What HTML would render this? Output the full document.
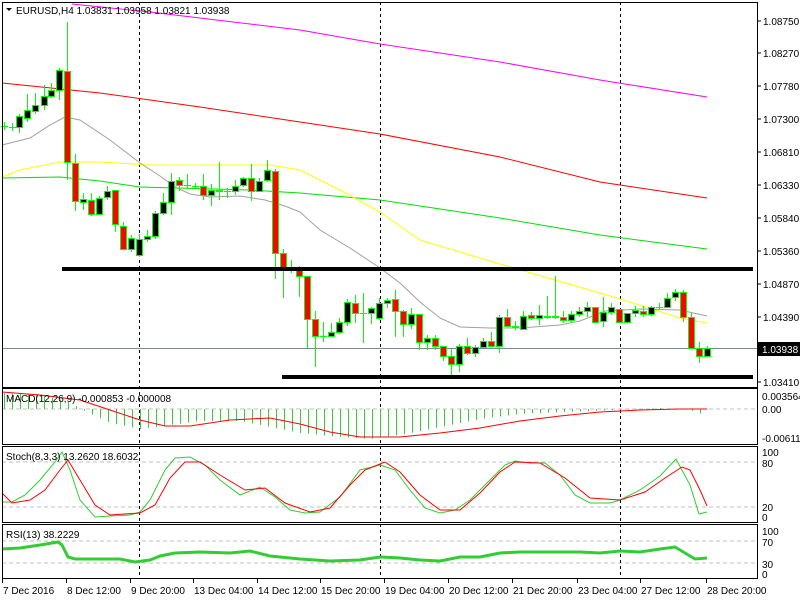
<!DOCTYPE html>
<html><head><meta charset="utf-8"><style>
html,body{margin:0;padding:0;background:#fff;}
svg{display:block;font-family:"Liberation Sans",sans-serif;font-size:10px;}
</style></head><body>
<svg id="s" width="800" height="600" xmlns="http://www.w3.org/2000/svg">
<rect width="800" height="600" fill="#fff"/>
<g id="g"></g>
</svg>
<script>
const g=document.getElementById('g');let h='';
function pl(pts,c,w){h+=`<polyline fill="none" stroke="${c}" stroke-width="${w}" points="${pts.map(p=>p.join(',')).join(' ')}"/>`;}
function ln(x1,y1,x2,y2,c,w,d){h+=`<line x1="${x1}" y1="${y1}" x2="${x2}" y2="${y2}" stroke="${c}" stroke-width="${w}"${d?` stroke-dasharray="${d}"`:''}/>`;}
function tx(x,y,t,c,a){h+=`<text x="${x}" y="${y}" fill="${c||'#000'}"${a?` text-anchor="${a}"`:''}>${t}</text>`;}
[[409],[462],[507],[541],[563]].forEach(v=>ln(2,v[0],757,v[0],'#c0c0c0',1,'4,3'));
ln(2,348.5,757,348.5,'#778899',1);
[139.5,380.5,620.5].forEach(x=>ln(x,2,x,578,'#000',1,'3,3'));
pl([[72,4],[150,12],[300,30],[380,44],[500,62],[600,80],[707,97]],'#ff00ff',1);
pl([[2,83],[100,93],[200,107],[300,122],[380,134],[500,157],[600,182],[707,198]],'#ff0000',1);
pl([[2,178],[60,177],[100,181],[140,187],[250,190],[300,193],[380,200],[500,218],[600,235],[707,249]],'#00e000',1);
pl([[2,177],[20,170],[60,162],[100,162],[150,165],[270,165],[300,170],[340,190],[380,212],[420,240],[470,255],[500,264],[555,280],[600,293],[640,305],[680,318],[707,323]],'#ffff00',1);
pl([[2,145],[30,138],[50,125],[65,117],[80,120],[110,140],[140,163],[160,176],[175,187],[190,194],[210,197],[240,196],[265,200],[285,206],[300,212],[320,230],[350,248],[380,268],[400,283],[420,302],[440,318],[460,327],[490,328],[520,328],[560,325],[580,321],[605,311],[640,309],[680,310],[707,316]],'#a0a0a0',1);
const C=[[4,'c',126,126,122,130],[12,'c',127,127,123,131],[19,'b',116,127,114,133],[27,'b',110,118,94,122],[35,'b',105,111,93,114],[44,'b',96,105,85,110],[51,'b',90,96,83,98],[59,'b',70,90,68,100],[67,'r',71,162,22,180],
[75,'r',163,201,154,211],[83,'b',199,202,193,210],[91,'r',200,214,193,216],[99,'b',198,214,196,215],[107,'b',191,197,186,200],[115,'r',190,224,190,232],[123,'r',226,249,222,250],[131,'b',238,249,235,252],[139,'b',239,255,234,257],
[147,'b',236,239,230,242],[155,'b',213,236,211,239],[163,'b',202,213,193,215],[171,'b',181,202,173,215],[179,'r',180,185,177,191],[187,'c',185,185,174,189],[195,'c',186,186,183,188],[203,'r',186,195,174,200],[211,'b',190,195,184,206],[219,'r',190,191,162,200],[227,'c',191,191,188,198],[235,'b',186,191,180,195],[243,'b',178,185,177,187],[251,'r',178,191,164,201],[259,'b',181,191,178,192],[267,'b',170,180,160,182],
[275,'r',171,253,169,279],[283,'r',253,267,249,298],[291,'r',267,268,260,273],[299,'r',269,276,266,297],[307,'r',276,319,276,348],[315,'r',319,336,311,367],[323,'c',336,336,322,342],[331,'b',332,336,323,337],[339,'b',322,332,318,334],[347,'b',302,322,299,326],[355,'r',303,313,295,323],[363,'c',313,313,293,343],[371,'b',308,313,307,324],[379,'b',303,318,298,320],[387,'b',300,303,298,308],[395,'r',299,311,290,337],
[403,'r',311,324,310,337],[411,'b',314,324,308,329],[419,'r',314,342,314,350],[427,'b',338,342,335,350],[435,'r',338,346,335,350],[443,'r',346,356,346,361],[451,'r',356,364,349,377],[459,'b',346,364,344,372],[467,'r',346,353,338,355],[475,'b',347,353,345,357],[483,'b',341,347,338,348],[491,'r',341,346,332,347],[499,'b',317,346,315,353],[507,'r',317,326,309,327],[515,'r',326,327,321,330],[523,'b',316,329,311,330],[531,'r',315,318,312,320],[539,'b',315,318,305,325],[547,'r',316,317,296,319],[555,'r',316,317,276,319],[563,'r',317,320,311,323],[571,'b',314,320,311,323],[579,'b',311,314,307,317],[587,'b',307,311,302,317],[595,'r',307,322,307,323],[603,'b',312,321,297,327],[611,'b',307,312,303,315],[619,'r',309,322,309,323],[627,'b',313,322,313,323],[635,'b',310,313,306,317],[643,'r',311,314,306,317],[651,'b',307,314,306,316],[659,'c',307,307,303,310],[667,'b',298,307,293,308],[675,'b',292,297,289,301],[683,'r',292,317,290,322],[691,'r',317,348,313,349],[699,'r',348,356,342,363],[707,'b',348,356,346,357]];
C.forEach(([x,t,bt,bb,wt,wb])=>{
 ln(x+.5,wt,x+.5,wb,'#00ff00',1);
 if(t=='c'){ln(x-3,bt+.5,x+4,bt+.5,'#00ff00',1);}
 else{h+=`<rect x="${x-2.5}" y="${bt+.5}" width="6" height="${Math.max(bb-bt,1)}" fill="${t=='b'?'#000':'#ff0000'}" stroke="#00ff00" stroke-width="1"/>`;}
});
ln(62,269,753,269,'#000',4);ln(282,377,753,377,'#000',4);
function mv(x){const pts=[[2,-16],[40,-14],[66,-8],[85,2],[110,14],[140,20],[170,16],[200,12],[240,12],[270,18],[300,24],[340,28],[370,30],[400,26],[440,18],[480,10],[520,5],[560,3],[620,1],[660,-1],[690,1],[707,7]];
 for(let i=0;i<pts.length-1;i++){if(x>=pts[i][0]&&x<=pts[i+1][0]){const f=(x-pts[i][0])/(pts[i+1][0]-pts[i][0]);return pts[i][1]+f*(pts[i+1][1]-pts[i][1]);}}return 0;}
for(let x=4;x<=708;x+=8){const v=mv(x);ln(x+.5,409,x+.5,409+v,'#3cc83c',1);}
pl([[2,392],[40,395],[80,400],[110,410],[140,420],[165,426],[190,426],[230,420],[270,418],[300,424],[330,432],[360,437],[400,437],[440,433],[480,428],[520,421],[560,416],[600,412],[640,410],[680,409],[707,409]],'#ff0000',1);
pl([[2,502],[12,502],[25,495],[40,480],[55,462],[62,452],[70,470],[80,500],[95,517],[110,516],[130,515],[140,512],[150,500],[165,470],[175,458],[190,457],[205,465],[220,480],[240,495],[260,487],[275,497],[290,510],[305,513],[320,512],[340,497],[360,470],[380,465],[395,470],[410,490],[425,508],[440,513],[455,510],[470,500],[490,480],[505,465],[515,461],[530,463],[545,463],[560,475],[575,495],[590,503],[610,503],[620,500],[640,490],[660,476],[676,459],[690,485],[699,514],[707,512]],'#32cd32',1);
pl([[2,493],[12,503],[30,500],[45,490],[60,470],[68,460],[80,480],[95,505],[110,515],[140,513],[155,505],[170,478],[185,462],[200,462],[220,475],[245,490],[265,488],[285,503],[310,512],[330,508],[350,485],[365,470],[385,462],[400,472],[420,495],[440,510],[460,510],[480,493],[500,472],[515,462],[540,463],[565,478],[590,498],[620,500],[645,492],[665,478],[682,467],[690,470],[700,490],[707,506]],'#ff0000',1);
pl([[2,549],[20,548],[40,545],[58,542],[62,545],[68,557],[75,559],[100,559],[120,559],[135,562],[150,560],[160,556],[175,553],[200,552],[230,553],[250,551],[270,556],[300,559],[330,561],[360,560],[380,557],[400,558],[420,560],[440,561],[460,557],[480,557],[500,553],[520,552],[540,552],[580,552],[600,553],[620,551],[640,552],[660,549],[675,547],[685,553],[695,559],[707,558]],'#32cd32',3);
[[2,2,755,385],[2,388,755,56],[2,446,755,76],[2,524,755,54]].forEach(([x,y,w,hh])=>h+=`<rect x="${x+.5}" y="${y+.5}" width="${w}" height="${hh}" fill="none" stroke="#000" stroke-width="1"/>`);
h+=`<path d="M6,8 L12,8 L9,11Z" fill="#000"/>`;
tx(16,14,'EURUSD,H4  1.03831 1.03958 1.03821 1.03938');
tx(6,402,'MACD(12,26,9) -0.000853 -0.000008');
tx(6,460,'Stoch(8,3,3) 13.2620 18.6032');
tx(6,538,'RSI(13) 38.2229');
const P=[['1.08750',21],['1.08270',53],['1.07780',86],['1.07300',119],['1.06810',152],['1.06330',185],['1.05840',218],['1.05360',251],['1.04870',284],['1.04390',317],['1.03410',382]];
P.forEach(([t,y])=>{ln(757,y,761,y,'#000',1);tx(763,y+4,t);});
h+=`<rect x="758" y="342" width="42" height="14" fill="#000"/>`;tx(762,353,'1.03938','#fff');
[['0.003564',396],['0.00',409],['-0.006117',438],['100',452],['80',463],['20',507],['0',517],['100',531],['70',542],['30',564],['0',574]].forEach(([t,y])=>tx(762,y+4,t));
const X=[['7 Dec 2016',2],['8 Dec 12:00',66],['9 Dec 20:00',130],['13 Dec 04:00',193],['14 Dec 12:00',257],['15 Dec 20:00',320],['19 Dec 04:00',384],['20 Dec 12:00',448],['21 Dec 20:00',512],['23 Dec 04:00',577],['27 Dec 12:00',640],['28 Dec 20:00',706]];
X.forEach(([t,x])=>{ln(x+.5,578,x+.5,583,'#000',1);tx(x+1,594,t);});
g.innerHTML=h;
</script>
</body></html>
